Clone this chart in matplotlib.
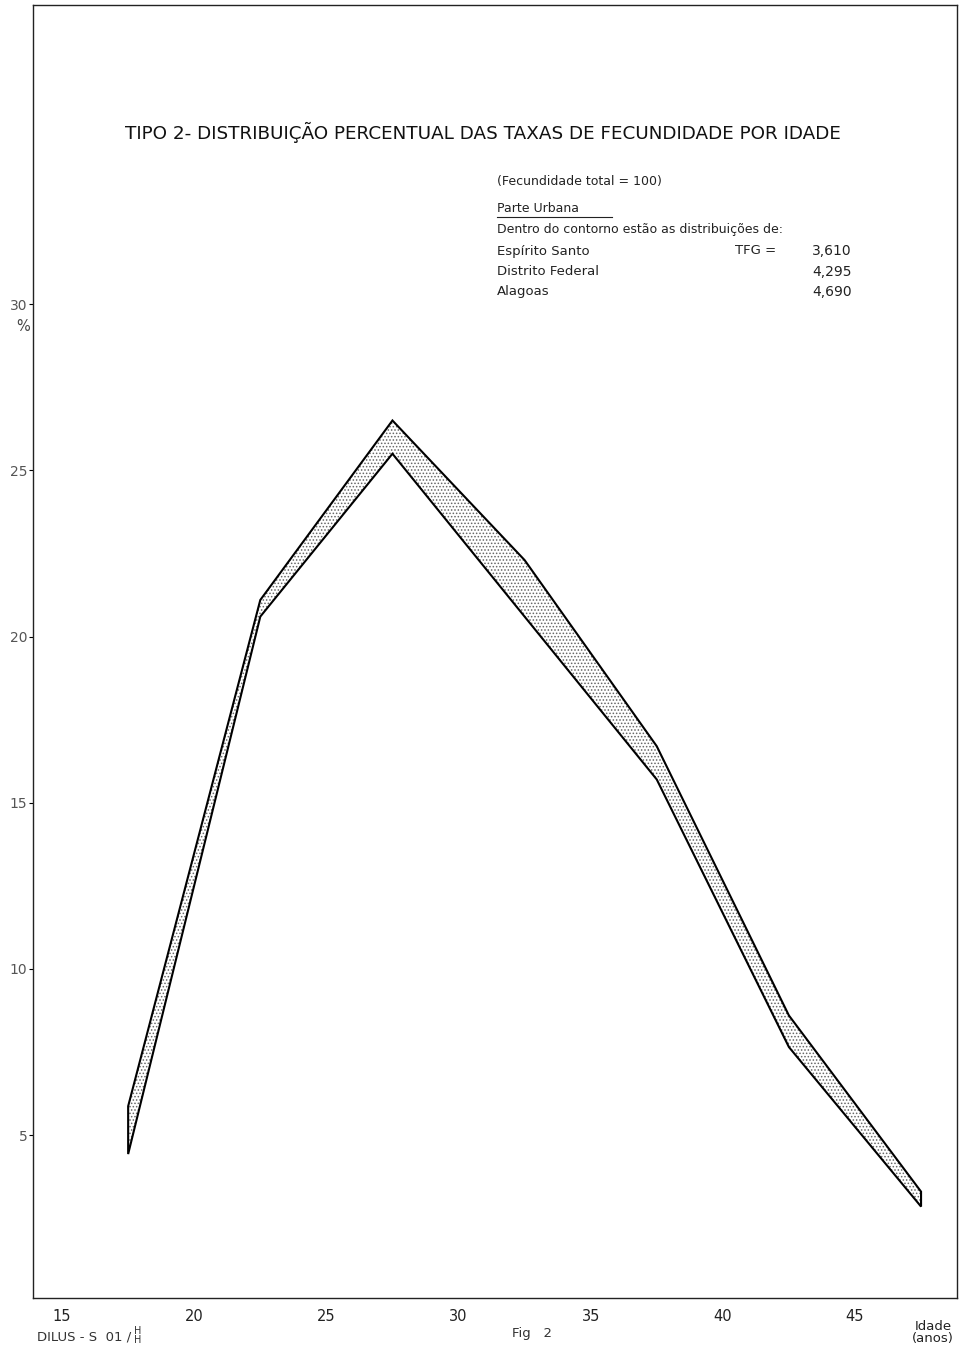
import matplotlib.pyplot as plt
import numpy as np

plt.rcParams['font.family'] = ['DejaVu Sans']
plt.rcParams['hatch.linewidth'] = 0.7

# idade central de cada grupo qüinqüenal
idades = [17.5, 22.5, 27.5, 32.5, 37.5, 42.5, 47.5]
# contorno das distribuições (% da fecundidade total)
limite_sup = [5.87, 21.1, 26.5, 22.3, 16.7, 8.6, 3.3]
limite_inf = [4.43, 20.6, 25.5, 20.6, 15.7, 7.65, 2.85]

y_ticks = [5, 10, 15, 20, 25, 30]
x_ticks = [15, 20, 25, 30, 35, 40, 45]

uf_nomes = ["Espírito Santo", "Distrito Federal", "Alagoas"]
uf_tfg = ["3,610", "4,295", "4,690"]

fig = plt.figure(figsize=(9.6, 13.45), dpi=100)
ax = fig.add_axes([33 / 960, 1 - 1298 / 1345, (957 - 33) / 960, (1298 - 5) / 1345])
ax.set_xlim(13.90, 48.86)
ax.set_ylim(0.1, 39.0)

# faixa pontilhada entre os dois limites
ax.fill_between(idades, limite_inf, limite_sup, facecolor='white',
                edgecolor='#666666', hatch='.....', linewidth=0)
xs = idades + idades[::-1]
ys = limite_sup + limite_inf[::-1]
ax.fill(xs, ys, facecolor='none', edgecolor='black', linewidth=1.5,
        joinstyle='miter')

for s in ax.spines.values():
    s.set_linewidth(1.0)
    s.set_color('#222222')

ax.set_yticks(y_ticks)
ax.set_yticklabels([str(v) for v in y_ticks], fontsize=10, color='#555555')
ax.set_xticks(x_ticks)
ax.set_xticklabels([str(v) for v in x_ticks], fontsize=10.5, color='#222222')
ax.tick_params(axis='y', direction='out', length=3, width=0.8, pad=1)
ax.tick_params(axis='x', length=0, pad=8)

ax.text(-0.003, 30 - 0.45, "%", transform=ax.get_yaxis_transform(),
        ha='right', va='top', fontsize=10.5, color='#444444')
ax.text(47.95, -0.55, "Idade\n(anos)", ha='center', va='top', fontsize=9.5,
        linespacing=0.9, color='#222222')

fig.text(483 / 960, 1 - 132 / 1345, "TIPO 2- DISTRIBUIÇÃO PERCENTUAL DAS TAXAS DE FECUNDIDADE POR IDADE",
         ha='center', va='center', fontsize=13.2, color='#111111')

lx = 497 / 960
fig.text(lx, 1 - 182 / 1345, "(Fecundidade total = 100)", ha='left', va='center',
         fontsize=9, color='#222222')
fig.text(lx, 1 - 209 / 1345, "Parte Urbana", ha='left', va='center',
         fontsize=9, color='#222222')
fig.add_artist(plt.Line2D([lx, 612 / 960], [1 - 217 / 1345] * 2,
                          color='#222222', linewidth=0.8))
fig.text(lx, 1 - 230 / 1345, "Dentro do contorno estão as distribuições de:",
         ha='left', va='center', fontsize=9, color='#222222')
for k, (nome, tfg) in enumerate(zip(uf_nomes, uf_tfg)):
    yy = 1 - (251 + 20.5 * k) / 1345
    fig.text(lx, yy, nome, ha='left', va='center', fontsize=9.5, color='#222222')
    fig.text(852 / 960, yy, tfg, ha='right', va='center', fontsize=10,
             color='#222222')
fig.text(735 / 960, 1 - 251 / 1345, "TFG =", ha='left', va='center',
         fontsize=9.5, color='#222222')

rodape = fig.text(37 / 960, 1 - 1337 / 1345, "DILUS - S  01 /", ha='left',
                  va='center', fontsize=9.5, color='#333333')
ax.annotate("H", xy=(1, 0.5), xycoords=rodape, xytext=(2, 4),
            textcoords='offset points', ha='left', va='center', fontsize=7,
            color='#333333')
ax.annotate("H", xy=(1, 0.5), xycoords=rodape, xytext=(2, -2),
            textcoords='offset points', ha='left', va='center', fontsize=7,
            color='#333333')
fig.text(512 / 960, 1 - 1333 / 1345, "Fig   2", ha='left', va='center',
         fontsize=9.5, color='#333333')

fig.savefig("out.png", dpi=100, facecolor='white')
